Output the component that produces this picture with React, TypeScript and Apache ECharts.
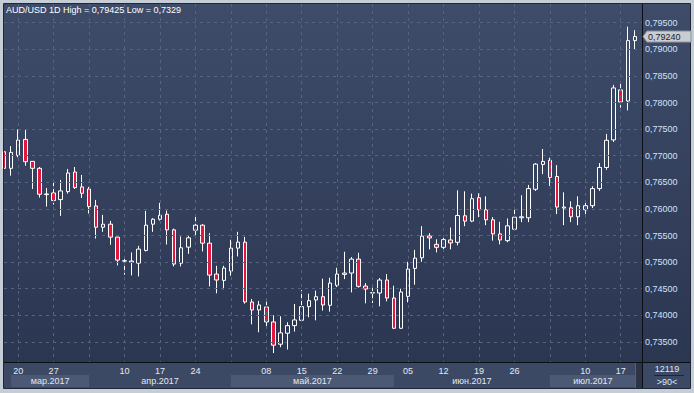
import React, { useEffect, useRef } from 'react';
import * as echarts from 'echarts';

const dates: string[] = [
  '2017-03-16', '2017-03-17', '2017-03-20', '2017-03-21', '2017-03-22', '2017-03-23', '2017-03-24',
  '2017-03-27', '2017-03-28', '2017-03-29', '2017-03-30', '2017-03-31',
  '2017-04-03', '2017-04-04', '2017-04-05', '2017-04-06', '2017-04-07',
  '2017-04-10', '2017-04-11', '2017-04-12', '2017-04-13', '2017-04-14',
  '2017-04-17', '2017-04-18', '2017-04-19', '2017-04-20', '2017-04-21',
  '2017-04-24', '2017-04-25', '2017-04-26', '2017-04-27', '2017-04-28',
  '2017-05-01', '2017-05-02', '2017-05-03', '2017-05-04', '2017-05-05',
  '2017-05-08', '2017-05-09', '2017-05-10', '2017-05-11', '2017-05-12',
  '2017-05-15', '2017-05-16', '2017-05-17', '2017-05-18', '2017-05-19',
  '2017-05-22', '2017-05-23', '2017-05-24', '2017-05-25', '2017-05-26',
  '2017-05-29', '2017-05-30', '2017-05-31', '2017-06-01', '2017-06-02',
  '2017-06-05', '2017-06-06', '2017-06-07', '2017-06-08', '2017-06-09',
  '2017-06-12', '2017-06-13', '2017-06-14', '2017-06-15', '2017-06-16',
  '2017-06-19', '2017-06-20', '2017-06-21', '2017-06-22', '2017-06-23',
  '2017-06-26', '2017-06-27', '2017-06-28', '2017-06-29', '2017-06-30',
  '2017-07-03', '2017-07-04', '2017-07-05', '2017-07-06', '2017-07-07',
  '2017-07-10', '2017-07-11', '2017-07-12', '2017-07-13', '2017-07-14',
  '2017-07-17', '2017-07-18', '2017-07-19',
];

const openValues: number[] = [
  0.77075, 0.76763, 0.77006, 0.77306, 0.76894, 0.76763, 0.76269, 0.76300, 0.76175, 0.76325,
  0.76694, 0.76413, 0.76375, 0.76056, 0.75656, 0.75713, 0.75469, 0.75019, 0.75000, 0.74981,
  0.75219, 0.75713, 0.75806, 0.75900, 0.75606, 0.74980, 0.75281, 0.75600, 0.75694, 0.75356,
  0.74775, 0.74656, 0.74831, 0.75263, 0.75375, 0.74250, 0.74100, 0.74156, 0.73875, 0.73456,
  0.73663, 0.73806, 0.73906, 0.74163, 0.74288, 0.74350, 0.74188, 0.74563, 0.74769, 0.74794,
  0.75056, 0.74550, 0.74419, 0.74419, 0.74663, 0.74325, 0.73756, 0.74356, 0.74881, 0.75081,
  0.75492, 0.75334, 0.75278, 0.75416, 0.75372, 0.75871, 0.75770, 0.76211, 0.75984, 0.75795,
  0.75530, 0.75404, 0.75618, 0.75833, 0.75833, 0.76369, 0.76836, 0.76912, 0.76609, 0.76016,
  0.76022, 0.75852, 0.75984, 0.76060, 0.76382, 0.76779, 0.77297, 0.78237, 0.78028, 0.79164,
];

const closeValues: number[] = [
  0.76763, 0.77063, 0.77294, 0.76888, 0.76763, 0.76275, 0.76281, 0.76156, 0.76338, 0.76675,
  0.76400, 0.76294, 0.76044, 0.75656, 0.75713, 0.75469, 0.75038, 0.75025, 0.75019, 0.75244,
  0.75694, 0.75806, 0.75880, 0.75606, 0.74963, 0.75269, 0.75456, 0.75694, 0.75356, 0.74756,
  0.74663, 0.74888, 0.75263, 0.75375, 0.74250, 0.74100, 0.74194, 0.73875, 0.73438, 0.73669,
  0.73806, 0.73913, 0.74163, 0.74275, 0.74350, 0.74194, 0.74606, 0.74775, 0.74794, 0.75056,
  0.74544, 0.74494, 0.74425, 0.74663, 0.74325, 0.73756, 0.74438, 0.74869, 0.75075, 0.75488,
  0.75454, 0.75278, 0.75423, 0.75360, 0.75877, 0.75770, 0.76192, 0.75984, 0.75795, 0.75530,
  0.75416, 0.75681, 0.75845, 0.75852, 0.76382, 0.76842, 0.76893, 0.76590, 0.76035, 0.76035,
  0.75852, 0.76060, 0.76060, 0.76382, 0.76779, 0.77290, 0.78274, 0.78009, 0.79164, 0.79240,
];

const lowValues: number[] = [
  0.76680, 0.76625, 0.76969, 0.76813, 0.76375, 0.76213, 0.76044, 0.76081, 0.75869, 0.76288,
  0.76375, 0.76206, 0.75913, 0.75444, 0.75569, 0.75325, 0.74938, 0.74763, 0.74750, 0.74731,
  0.75200, 0.75569, 0.75781, 0.75331, 0.74919, 0.74919, 0.75156, 0.75469, 0.75200, 0.74544,
  0.74413, 0.74488, 0.74744, 0.75106, 0.74219, 0.73831, 0.73681, 0.73781, 0.73290, 0.73400,
  0.73356, 0.73694, 0.73888, 0.73963, 0.73906, 0.74088, 0.74069, 0.74531, 0.74681, 0.74431,
  0.74519, 0.74225, 0.74231, 0.74169, 0.74263, 0.73744, 0.73744, 0.74244, 0.74575, 0.75006,
  0.75240, 0.75183, 0.75202, 0.75240, 0.75315, 0.75675, 0.75751, 0.75845, 0.75694, 0.75404,
  0.75334, 0.75372, 0.75610, 0.75751, 0.75751, 0.76338, 0.76653, 0.76432, 0.75902, 0.75694,
  0.75751, 0.75694, 0.75845, 0.76016, 0.76338, 0.76735, 0.77259, 0.77902, 0.77852, 0.78987,
];

const highValues: number[] = [
  0.77120, 0.77181, 0.77494, 0.77500, 0.76900, 0.76788, 0.76394, 0.76488, 0.76544, 0.76750,
  0.76788, 0.76638, 0.76413, 0.76169, 0.75888, 0.75775, 0.75475, 0.75106, 0.75181, 0.75306,
  0.75963, 0.75825, 0.76113, 0.75969, 0.75630, 0.75481, 0.75506, 0.75850, 0.75713, 0.75544,
  0.74931, 0.74931, 0.75419, 0.75569, 0.75475, 0.74306, 0.74269, 0.74256, 0.74000, 0.73981,
  0.73869, 0.74213, 0.74475, 0.74406, 0.74463, 0.74688, 0.74706, 0.74894, 0.75194, 0.75094,
  0.75175, 0.74606, 0.74519, 0.74700, 0.74775, 0.74556, 0.74500, 0.75006, 0.75231, 0.75675,
  0.75543, 0.75429, 0.75461, 0.75650, 0.76350, 0.76331, 0.76287, 0.76293, 0.76237, 0.75845,
  0.75757, 0.75820, 0.75991, 0.76256, 0.76451, 0.76861, 0.77126, 0.76962, 0.76823, 0.76312,
  0.76142, 0.76237, 0.76142, 0.76426, 0.76861, 0.77410, 0.78331, 0.78394, 0.79425, 0.79360,
];

// Monday of each week (vertical dashed grid lines)
const weekStarts: string[] = [
  '2017-03-20', '2017-03-27', '2017-04-03', '2017-04-10', '2017-04-17', '2017-04-24',
  '2017-05-01', '2017-05-08', '2017-05-15', '2017-05-22', '2017-05-29', '2017-06-05',
  '2017-06-12', '2017-06-19', '2017-06-26', '2017-07-03', '2017-07-10', '2017-07-17',
];

// Day tick labels shown under the axis
const dayTicks: string[] = [
  '2017-03-20', '2017-03-27', '2017-04-10', '2017-04-17', '2017-04-24',
  '2017-05-08', '2017-05-15', '2017-05-22', '2017-05-29', '2017-06-05',
  '2017-06-12', '2017-06-19', '2017-06-26', '2017-07-10', '2017-07-17',
];

const monthLabels: string[] = ['мар.2017', 'апр.2017', 'май.2017', 'июн.2017', 'июл.2017'];
const monthStarts: string[] = ['2017-03-17', '2017-04-03', '2017-05-01', '2017-06-01', '2017-07-03'];

const instrument = 'AUD/USD 1D';
const barsInfo = ['12119', '>90<'];

const FONT = '"Liberation Sans", Arial, sans-serif';
const fmt = (v: number) => String(v).replace('.', ',');

export default function App() {
  const ref = useRef<HTMLDivElement>(null);

  useEffect(() => {
    const el = ref.current;
    if (!el) return;
    const chart = echarts.init(el, null, { renderer: 'svg' });
    const weekSet = new Set(weekStarts);
    const tickSet = new Set(dayTicks);
    const hi = Math.max(...highValues);
    const lo = Math.min(...lowValues);

    const gridStyle = { color: '#56647f', type: [3, 4] as number[], width: 1 };

    chart.setOption({
      animation: false,
      backgroundColor: '#c5cdd6',
      title: {
        text: `${instrument} High = ${fmt(hi)} Low = ${fmt(lo)}`,
        left: 6,
        top: 5,
        padding: 0,
        textStyle: { color: '#ffffff', fontSize: 9, fontWeight: 'normal', fontFamily: FONT },
        z: 20,
      },
      grid: { left: 4, top: 4, right: 52, bottom: 31, containLabel: false },
      xAxis: {
        type: 'category',
        data: dates,
        boundaryGap: false,
        min: 0,
        max: dates.length,
        axisLine: { show: true, lineStyle: { color: '#0b0e14', width: 1 } },
        axisTick: { show: false },
        axisLabel: {
          interval: (i: number) => tickSet.has(dates[i]),
          formatter: (v: string) => (v ? v.slice(8) : ''),
          color: '#e4eaf2',
          fontSize: 9,
          fontFamily: FONT,
          margin: 4,
        },
        splitLine: {
          show: true,
          interval: (i: number) => weekSet.has(dates[i]),
          lineStyle: gridStyle,
        },
        z: 5,
      },
      yAxis: {
        type: 'value',
        position: 'right',
        scale: true,
        min: 0.73122,
        max: 0.79852,
        splitNumber: 13,
        axisLine: { show: true, lineStyle: { color: '#0b0e14', width: 1 } },
        axisTick: { show: false },
        axisLabel: {
          showMinLabel: false,
          showMaxLabel: false,
          margin: 3,
          color: '#d2e2f6',
          fontSize: 9,
          fontFamily: FONT,
          formatter: (v: number) => v.toFixed(5).replace('.', ','),
        },
        splitLine: { show: true, showMinLine: false, showMaxLine: false, lineStyle: gridStyle },
        z: 5,
      },
      series: [
        {
          type: 'candlestick',
          data: openValues.map((o, i) => [o, closeValues[i], lowValues[i], highValues[i]]),
          barWidth: 4,
          clip: true,
          z: 3,
          itemStyle: {
            color: 'transparent',
            color0: '#e5163d',
            borderColor: '#ffffff',
            borderColor0: '#ffffff',
            borderWidth: 1,
          },
        },
      ],
    });

    const xs = (i: number) => chart.convertToPixel({ xAxisIndex: 0 }, i) as number;
    const step = xs(1) - xs(0);
    const lastX = xs(dates.length - 1);
    const startIdx = monthStarts.map((d) => dates.indexOf(d));
    const lastClose = closeValues[closeValues.length - 1];
    const yC = chart.convertToPixel({ yAxisIndex: 0 }, lastClose) as number;

    const bgGrad = new echarts.graphic.LinearGradient(0, 0, 0, 1, [
      { offset: 0, color: '#3e4c6a' },
      { offset: 1, color: '#2b3651' },
    ]);

    const g: any[] = [
      { type: 'rect', z: -10, silent: true, shape: { x: 4, y: 4, width: 638, height: 358 }, style: { fill: bgGrad } },
      { type: 'rect', z: -10, silent: true, shape: { x: 643, y: 4, width: 47, height: 358 }, style: { fill: bgGrad } },
      { type: 'rect', z: -10, silent: true, shape: { x: 4, y: 363, width: 638, height: 25 }, style: { fill: '#3c4965' } },
      { type: 'rect', z: -10, silent: true, shape: { x: 643, y: 363, width: 47, height: 25 }, style: { fill: '#3c4965' } },
    ];

    monthLabels.forEach((m, k) => {
      const x0 = xs(startIdx[k]);
      const x1 = k + 1 < startIdx.length ? xs(startIdx[k + 1]) : lastX + step * 0.15;
      if (k % 2 === 0) {
        g.push({ type: 'rect', z: -9, silent: true, shape: { x: x0, y: 375, width: x1 - x0, height: 12 }, style: { fill: '#4b5975' } });
      }
      g.push({
        type: 'text', z: 20, silent: true,
        style: {
          text: m, x: (x0 + x1) / 2, y: 381, fill: '#e2e8f0',
          font: `9px ${FONT}`, textAlign: 'center', align: 'center',
          textVerticalAlign: 'middle', verticalAlign: 'middle',
        },
      });
    });

    g.push(
      { type: 'rect', z: -8, silent: true, shape: { x: 635, y: 363, width: 7, height: 25 }, style: { fill: '#2c3445' } },
      { type: 'line', z: -7, silent: true, shape: { x1: 635.5, y1: 363, x2: 635.5, y2: 388 }, style: { stroke: '#56607a', lineWidth: 1 } },
      { type: 'line', z: 15, silent: true, shape: { x1: 642.5, y1: 4, x2: 642.5, y2: 388 }, style: { stroke: '#0b0e14', lineWidth: 1 } },
      { type: 'line', z: 15, silent: true, shape: { x1: 4, y1: 362.5, x2: 690, y2: 362.5 }, style: { stroke: '#0b0e14', lineWidth: 1 } },
      { type: 'rect', z: 15, silent: true, shape: { x: 3.5, y: 3.5, width: 687, height: 385 }, style: { fill: 'none', stroke: '#202737', lineWidth: 1 } },
      {
        type: 'text', z: 20, silent: true,
        style: { text: barsInfo[0], x: 667, y: 369, fill: '#dfe7f1', font: `9px ${FONT}`, textAlign: 'center', align: 'center', textVerticalAlign: 'middle', verticalAlign: 'middle' },
      },
      { type: 'line', z: 20, silent: true, shape: { x1: 654, y1: 375.5, x2: 684, y2: 375.5 }, style: { stroke: '#1e2535', lineWidth: 1 } },
      {
        type: 'text', z: 20, silent: true,
        style: { text: barsInfo[1], x: 667, y: 382, fill: '#dfe7f1', font: `9px ${FONT}`, textAlign: 'center', align: 'center', textVerticalAlign: 'middle', verticalAlign: 'middle' },
      },
      {
        type: 'polygon', z: 20, silent: true,
        shape: { points: [[643, yC], [647, yC - 5.5], [691, yC - 5.5], [691, yC + 5.5], [647, yC + 5.5]] },
        style: { fill: '#c9cdd3', stroke: '#8d939c', lineWidth: 1 },
      },
      {
        type: 'text', z: 21, silent: true,
        style: { text: lastClose.toFixed(5).replace('.', ','), x: 648, y: yC, fill: '#1a1d24', font: `9px ${FONT}`, textAlign: 'left', align: 'left', textVerticalAlign: 'middle', verticalAlign: 'middle' },
      },
    );

    chart.setOption({ graphic: g });

    return () => chart.dispose();
  }, []);

  return <div ref={ref} style={{ position: 'fixed', left: 0, top: 0, width: 694, height: 393 }} />;
}
